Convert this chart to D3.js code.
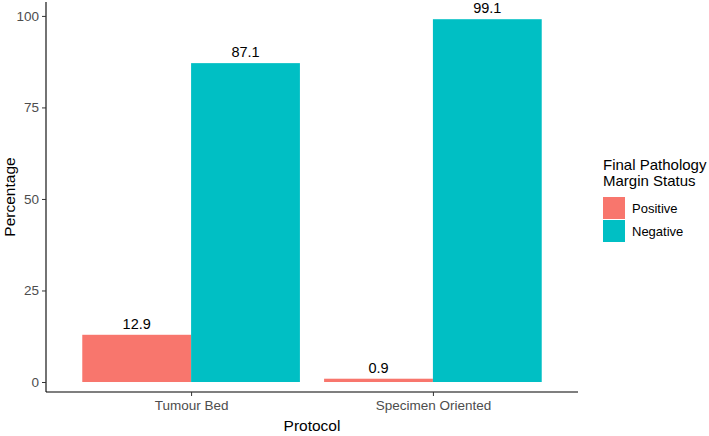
<html><head>
<meta charset="utf-8">
<script src="https://d3js.org/d3.v7.min.js"></script>
<style>
  body { margin: 0; background: #fff; }
  text { font-family: "Liberation Sans", Arial, sans-serif; }
</style>
</head>
<body>
<div id="chart"></div>
<script>
// data
var protocols = ["Tumour Bed", "Specimen Oriented"];
var statuses = ["Positive", "Negative"];
var positiveVals = [12.9, 0.9];
var negativeVals = [87.1, 99.1];
var yTicks = [0, 25, 50, 75, 100];
var colors = ["#F8766D", "#00BFC4"];

var width = 709, height = 436;
var margin = {top: 2, right: 131, bottom: 44, left: 46};

var svg = d3.select("#chart").append("svg")
  .attr("width", width)
  .attr("height", height);

var rows = [];
protocols.forEach(function(p, i) {
  rows.push({protocol: p, status: "Positive", value: positiveVals[i]});
  rows.push({protocol: p, status: "Negative", value: negativeVals[i]});
});

// continuous x like ggplot's discrete scale (positions 1,2 expanded by 0.6)
var xPos = d3.scaleLinear()
  .domain([0.4, 2.6])
  .range([margin.left, width - margin.right]);

var y = d3.scaleLinear()
  .domain([-2.73, 103.8])
  .range([height - margin.bottom, margin.top]);

var barW = 0.9;

svg.selectAll("rect.bar")
  .data(rows)
  .enter().append("rect")
    .attr("class", "bar")
    .attr("x", function(d) {
      var c = protocols.indexOf(d.protocol) + 1;
      var off = d.status == "Positive" ? -barW / 2 : 0;
      return xPos(c + off);
    })
    .attr("width", xPos(barW / 2) - xPos(0))
    .attr("y", function(d) { return y(d.value); })
    .attr("height", function(d) { return y(0) - y(d.value); })
    .attr("fill", function(d) { return colors[statuses.indexOf(d.status)]; });

svg.selectAll("text.lab")
  .data(rows)
  .enter().append("text")
    .attr("class", "lab")
    .attr("x", function(d) {
      var c = protocols.indexOf(d.protocol) + 1;
      var off = d.status == "Positive" ? -barW / 4 : barW / 4;
      return xPos(c + off);
    })
    .attr("y", function(d) { return y(d.value) - 6; })
    .attr("text-anchor", "middle")
    .style("font-size", "14.5px")
    .attr("fill", "#000")
    .text(function(d) { return d.value.toFixed(1); });

// axes
var yAxis = svg.append("g")
  .attr("transform", "translate(" + margin.left + ",0)")
  .call(d3.axisLeft(y).tickValues(yTicks).tickSize(4).tickPadding(3));
yAxis.select(".domain").attr("stroke", "#000").attr("stroke-width", 1.1)
  .attr("d", "M0," + margin.top + "V" + (height - margin.bottom));
yAxis.selectAll(".tick line").attr("stroke", "#333");
yAxis.selectAll(".tick text").attr("fill", "#4d4d4d")
  .style("font-size", "13.5px").style("font-family", "Liberation Sans, Arial, sans-serif");

var xAxis = svg.append("g")
  .attr("transform", "translate(0," + (height - margin.bottom) + ")")
  .call(d3.axisBottom(xPos).tickValues([1, 2])
    .tickFormat(function(d) { return protocols[d - 1]; })
    .tickSize(4).tickPadding(4));
xAxis.select(".domain").attr("stroke", "#000").attr("stroke-width", 1.1)
  .attr("d", "M" + margin.left + ",0H" + (width - margin.right));
xAxis.selectAll(".tick line").attr("stroke", "#333");
xAxis.selectAll(".tick text").attr("fill", "#4d4d4d")
  .style("font-size", "13.5px").style("font-family", "Liberation Sans, Arial, sans-serif");

// axis titles
svg.append("text")
  .attr("x", (xPos(0.4) + xPos(2.6)) / 2)
  .attr("y", 431)
  .attr("text-anchor", "middle")
  .style("font-size", "15.5px")
  .text("Protocol");

svg.append("text")
  .attr("transform", "translate(15," + ((margin.top + height - margin.bottom) / 2) + ") rotate(-90)")
  .attr("text-anchor", "middle")
  .style("font-size", "15.5px")
  .text("Percentage");

// legend
var leg = svg.append("g").attr("transform", "translate(603,0)");
leg.append("text").attr("x", 0).attr("y", 170).style("font-size", "15px").text("Final Pathology");
leg.append("text").attr("x", 0).attr("y", 186).style("font-size", "15px").text("Margin Status");

statuses.forEach(function(s, i) {
  leg.append("rect")
    .attr("x", 0).attr("y", 197 + i * 23)
    .attr("width", 22).attr("height", 22)
    .attr("fill", colors[i]);
  leg.append("text")
    .attr("x", 29).attr("y", 213 + i * 23)
    .style("font-size", "13px")
    .text(s);
});
</script>
</body></html>
